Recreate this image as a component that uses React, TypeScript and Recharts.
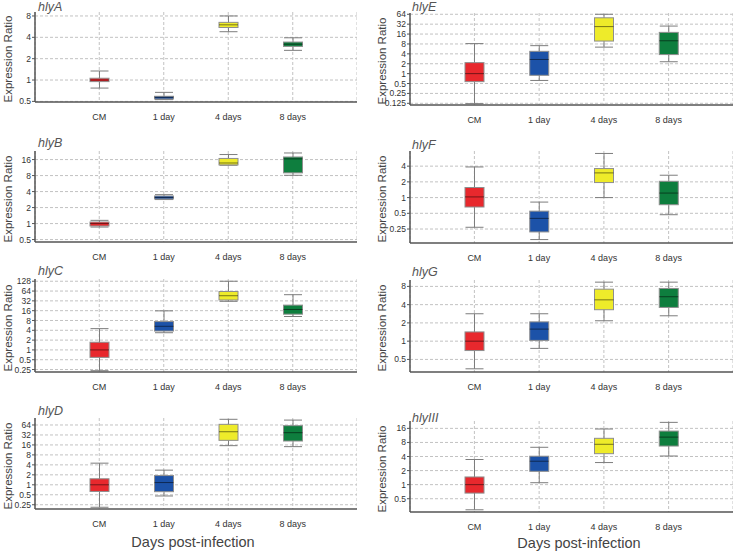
import { ComposedChart, Bar, XAxis, YAxis, CartesianGrid } from 'recharts';

const categories = ['CM', '1 day', '4 days', '8 days'];
const boxColors = ['#e8282d', '#1c52a8', '#eeeb2a', '#0e7e3e'];

// [min, q1, median, q3, max] for CM, 1 day, 4 days, 8 days
const hlyA = [
  [0.77, 0.95, 1.0, 1.06, 1.34],
  [0.53, 0.54, 0.57, 0.59, 0.67],
  [4.8, 5.5, 6.0, 6.5, 8.0],
  [2.62, 2.98, 3.2, 3.43, 3.94],
];
const hlyB = [
  [0.86, 0.9, 1.0, 1.07, 1.15],
  [2.83, 2.9, 3.1, 3.3, 3.5],
  [12.5, 12.7, 13.8, 16.8, 19.9],
  [8.1, 9.0, 16.5, 17.9, 21.3],
];
const hlyC = [
  [0.23, 0.59, 1.0, 1.72, 4.5],
  [3.37, 3.8, 5.3, 7.4, 15.8],
  [31, 34, 46, 62, 128],
  [10.6, 12.5, 17.4, 23.7, 49.5],
];
const hlyD = [
  [0.21, 0.63, 1.0, 1.52, 4.5],
  [0.46, 0.62, 1.17, 1.9, 2.77],
  [15.2, 22, 40, 67, 95],
  [14.2, 21, 37.5, 61, 90],
];
const hlyE = [
  [0.122, 0.57, 1.0, 2.16, 8.2],
  [0.62, 0.89, 2.7, 4.77, 7.1],
  [6.4, 9.8, 27, 50, 64],
  [2.3, 3.8, 10, 18, 28],
];
const hlyF = [
  [0.27, 0.66, 1.03, 1.56, 3.86],
  [0.157, 0.22, 0.4, 0.55, 0.82],
  [1.0, 1.94, 2.97, 3.6, 7.0],
  [0.47, 0.73, 1.22, 2.05, 2.68],
];
const hlyG = [
  [0.35, 0.7, 1.0, 1.42, 2.83],
  [0.76, 1.03, 1.58, 2.08, 2.83],
  [2.17, 3.3, 4.8, 7.2, 9.4],
  [2.62, 3.6, 5.4, 7.4, 9.4],
];
const hlyIII = [
  [0.29, 0.66, 1.0, 1.46, 3.45],
  [1.1, 1.93, 3.17, 4.06, 6.3],
  [2.97, 4.6, 7.3, 9.8, 15.5],
  [4.1, 6.7, 10.4, 14, 21.5],
];

const ticksA = [0.5, 1, 2, 4, 8];
const ticksB = [0.5, 1, 2, 4, 8, 16];
const ticksC = [0.25, 0.5, 1, 2, 4, 8, 16, 32, 64, 128];
const ticksD = [0.25, 0.5, 1, 2, 4, 8, 16, 32, 64];
const ticksE = [0.125, 0.25, 0.5, 1, 2, 4, 8, 16, 32, 64];
const ticksF = [0.25, 0.5, 1, 2, 4];
const ticksG = [0.5, 1, 2, 4, 8];
const ticksIII = [0.5, 1, 2, 4, 8, 16];

const FONT = '"Liberation Sans", Arial, sans-serif';

const Whisker = (props: any) => {
  const { x, y, width, height } = props;
  const cx = x + width / 2;
  const top = Math.min(y, y + height);
  const bottom = Math.max(y, y + height);
  return (
    <g stroke="#7d7d7d" strokeWidth={1}>
      <line x1={cx} x2={cx} y1={top} y2={bottom} />
      <line x1={cx - 9} x2={cx + 9} y1={top} y2={top} />
      <line x1={cx - 9} x2={cx + 9} y1={bottom} y2={bottom} />
    </g>
  );
};

const Box = (props: any) => {
  const { x, y, width, height, payload, index } = props;
  const top = Math.min(y, y + height);
  const bottom = Math.max(y, y + height);
  const span = Math.log(payload.q3) - Math.log(payload.q1);
  const t = span > 0 ? (Math.log(payload.med) - Math.log(payload.q1)) / span : 0.5;
  const my = bottom - (bottom - top) * t;
  return (
    <g>
      <rect
        x={x}
        y={top}
        width={width}
        height={Math.max(bottom - top, 1)}
        fill={boxColors[index]}
        stroke="#8e8e8e"
        strokeWidth={1}
      />
      <line x1={x} x2={x + width} y1={my} y2={my} stroke="rgba(0,0,0,0.5)" strokeWidth={1} />
    </g>
  );
};

interface PanelProps {
  title: string;
  stats: number[][];
  col: number;
  top: number;
  bottom: number;
  domain: [number, number];
  ticks: number[];
  titleY: number;
}

function Panel({ title, stats, col, top, bottom, domain, ticks, titleY }: PanelProps) {
  const left = col === 0 ? 0 : 367;
  const axisX = col === 0 ? 35 : 410;
  const right = col === 0 ? 357 : 733;
  const svgTop = top - 4;
  const xAxisH = 22;
  const height = bottom - svgTop + xAxisH;

  const rows = categories.map((name, i) => ({
    name,
    whisker: [stats[i][0], stats[i][4]],
    box: [stats[i][1], stats[i][3]],
    q1: stats[i][1],
    med: stats[i][2],
    q3: stats[i][3],
  }));

  // grid lines only at the labelled ticks (no extra line at the plot top)
  const hGrid = (p: any) => {
    const s = p?.yAxis?.scale;
    if (typeof s === 'function') return ticks.map((t) => s(t));
    if (s && typeof s.map === 'function') return ticks.map((t) => s.map(t));
    const off = p.offset;
    const lo = Math.log(domain[0]);
    const hi = Math.log(domain[1]);
    return ticks.map((t) => off.top + (off.height * (hi - Math.log(t))) / (hi - lo));
  };

  return (
    <>
      <div style={{ position: 'absolute', left: left, top: svgTop }}>
        <ComposedChart
          width={right - left}
          height={height}
          data={rows}
          margin={{ top: 4, right: 0, left: 0, bottom: 0 }}
          barSize={19}
          barGap={-19}
        >
          <CartesianGrid strokeDasharray="3 2" stroke="#c2c2c2" horizontalCoordinatesGenerator={hGrid} />
          <XAxis
            dataKey="name"
            padding={{ left: 32, right: 32 }}
            height={xAxisH}
            interval={0}
            tickLine={false}
            tickMargin={6}
            axisLine={{ stroke: '#555', strokeWidth: 1.5 }}
            tick={{ fontSize: 9, fill: '#333' }}
          />
          <YAxis
            type="number"
            scale="log"
            domain={domain}
            ticks={ticks}
            interval={0}
            allowDataOverflow
            width={axisX - left}
            tickSize={3}
            tickMargin={1}
            axisLine={{ stroke: '#555', strokeWidth: 1.5 }}
            tickLine={{ stroke: '#555' }}
            tick={{ fontSize: 8.5, fill: '#333' }}
          />
          <Bar dataKey="whisker" shape={Whisker} isAnimationActive={false} />
          <Bar dataKey="box" shape={Box} isAnimationActive={false} />
        </ComposedChart>
      </div>
      <div
        style={{
          position: 'absolute',
          left: axisX + (col === 0 ? 3 : 2),
          top: Math.max(titleY - 7, 0),
          fontSize: 12.5,
          fontStyle: 'italic',
          color: '#555',
          lineHeight: '14px',
        }}
      >
        {title}
      </div>
      <div
        style={{
          position: 'absolute',
          left: col === 0 ? 8 : 382,
          top: (top + bottom) / 2 + 2,
          transform: 'translate(-50%, -50%) rotate(-90deg)',
          whiteSpace: 'nowrap',
          fontSize: 11.5,
          color: '#444',
        }}
      >
        Expression Ratio
      </div>
    </>
  );
}

export default function App() {
  return (
    <div
      style={{
        position: 'absolute',
        left: 0,
        top: 0,
        width: 734,
        height: 553,
        background: '#fff',
        fontFamily: FONT,
        overflow: 'hidden',
      }}
    >
      <Panel title="hlyA" stats={hlyA} col={0} top={12} bottom={102} domain={[0.49, 9.1]} ticks={ticksA} titleY={7} />
      <Panel title="hlyB" stats={hlyB} col={0} top={151} bottom={242} domain={[0.45, 23.2]} ticks={ticksB} titleY={143} />
      <Panel title="hlyC" stats={hlyC} col={0} top={279} bottom={372} domain={[0.21, 150]} ticks={ticksC} titleY={271} />
      <Panel title="hlyD" stats={hlyD} col={0} top={418} bottom={509} domain={[0.186, 104]} ticks={ticksD} titleY={411} />
      <Panel title="hlyE" stats={hlyE} col={1} top={13} bottom={105} domain={[0.111, 70]} ticks={ticksE} titleY={7} />
      <Panel title="hlyF" stats={hlyF} col={1} top={151} bottom={243} domain={[0.135, 7.8]} ticks={ticksF} titleY={145} />
      <Panel title="hlyG" stats={hlyG} col={1} top={280} bottom={372} domain={[0.31, 10.2]} ticks={ticksG} titleY={272} />
      <Panel title="hlyIII" stats={hlyIII} col={1} top={421} bottom={512} domain={[0.26, 23]} ticks={ticksIII} titleY={418} />
      <div style={{ position: 'absolute', left: 193, top: 542, transform: 'translate(-50%, -50%)', fontSize: 14.5, color: '#444', whiteSpace: 'nowrap' }}>
        Days post-infection
      </div>
      <div style={{ position: 'absolute', left: 579, top: 543, transform: 'translate(-50%, -50%)', fontSize: 14.5, color: '#444', whiteSpace: 'nowrap' }}>
        Days post-infection
      </div>
    </div>
  );
}
